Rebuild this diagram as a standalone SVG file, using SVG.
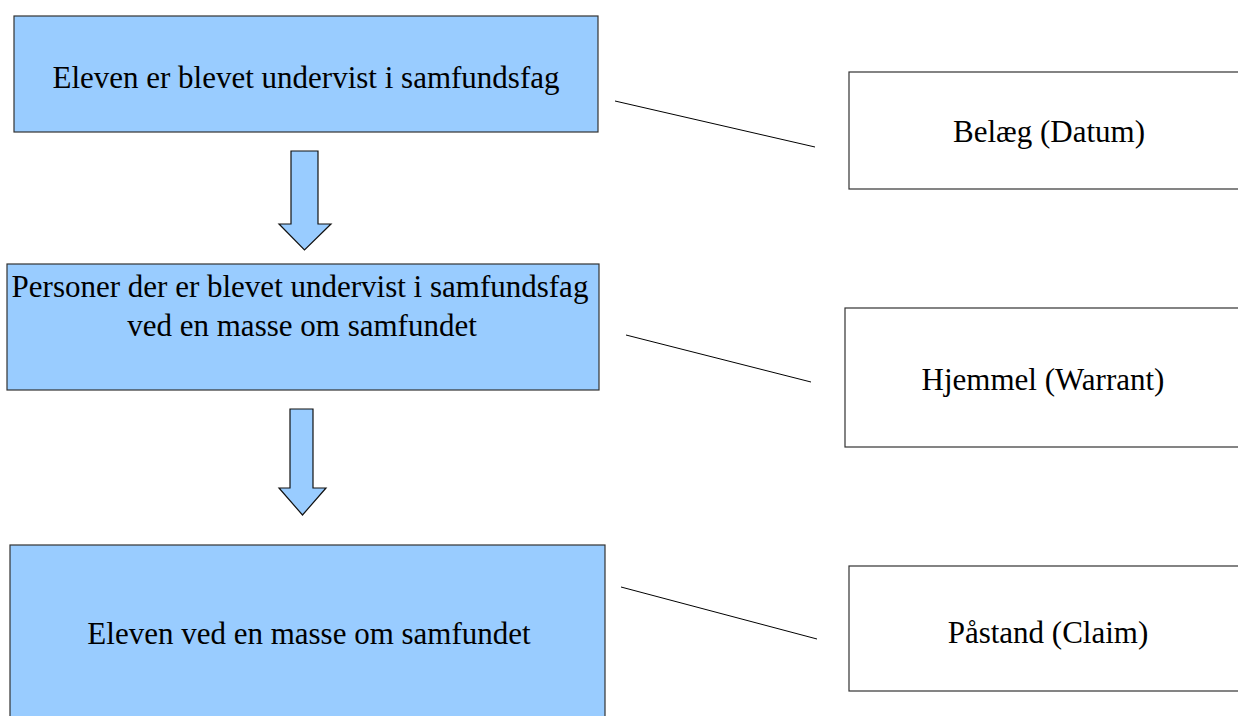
<svg xmlns="http://www.w3.org/2000/svg" width="1238" height="716" viewBox="0 0 1238 716">
<style>
.blue{fill:#99ccff;stroke:#333;stroke-width:1.2}
.white{fill:#fff;stroke:#333;stroke-width:1.2}
.arrow{fill:#99ccff;stroke:#111;stroke-width:1.2;stroke-linejoin:miter}
.t{font-family:"Liberation Serif","Times New Roman",serif;font-size:31px;fill:#000;text-anchor:middle}
.conn line{stroke:#000;stroke-width:1}
</style>
<rect width="1238" height="716" fill="#fff"/>
<g id="n1"><rect class="blue" x="14" y="16" width="584" height="116"/><text class="t" x="306" y="88">Eleven er blevet undervist i samfundsfag</text></g>
<g id="n2"><rect class="blue" x="7" y="264" width="592" height="126"/><text class="t" x="300" y="297">Personer der er blevet undervist i samfundsfag</text><text class="t" x="302" y="336">ved en masse om samfundet</text></g>
<g id="n3"><rect class="blue" x="10" y="545" width="595" height="180"/><text class="t" x="309" y="644">Eleven ved en masse om samfundet</text></g>
<g id="a1"><path class="arrow" d="M291,151 H318 V224 H331 L304.5,250 L279,224 H291 Z"/></g>
<g id="a2"><path class="arrow" d="M290,409 H313 V488 H326 L302.5,515 L279,488 H290 Z"/></g>
<g id="r1"><rect class="white" x="849" y="72" width="400" height="117"/><text class="t" x="1049" y="142">Belæg (Datum)</text></g>
<g id="r2"><rect class="white" x="845" y="308" width="400" height="139"/><text class="t" x="1043" y="390">Hjemmel (Warrant)</text></g>
<g id="r3"><rect class="white" x="849" y="566" width="400" height="125"/><text class="t" x="1048" y="643">Påstand (Claim)</text></g>
<g id="connectors" class="conn">
<line x1="615" y1="101" x2="815" y2="147"/>
<line x1="626" y1="335" x2="811" y2="382"/>
<line x1="621" y1="587" x2="817" y2="639"/>
</g>
</svg>
